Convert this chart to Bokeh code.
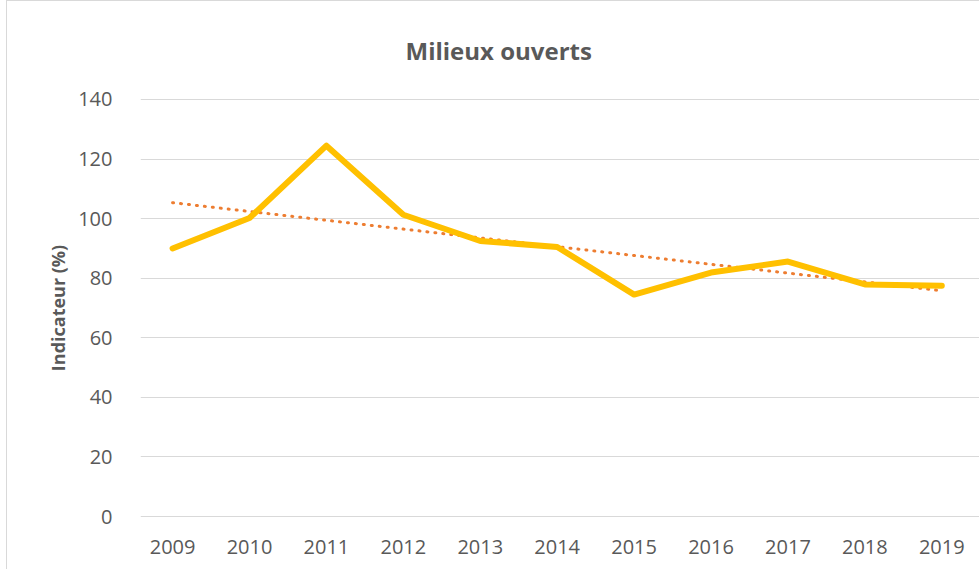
import numpy as np
from bokeh.plotting import figure
from bokeh.models import Range1d, FixedTicker, Title
from bokeh.embed import file_html
from bokeh.resources import INLINE

years = [2009, 2010, 2011, 2012, 2013, 2014, 2015, 2016, 2017, 2018, 2019]
values = [90.0, 100.2, 124.5, 101.3, 92.5, 90.5, 74.5, 81.9, 85.6, 77.9, 77.5]
y_ticks = [0, 20, 40, 60, 80, 100, 120, 140]
title_text = "Milieux ouverts"
y_label = "Indicateur (%)"

# linear trend line (Excel-style regression on the series)
xs = np.arange(len(years))
slope, intercept = np.polyfit(xs, values, 1)
trend = list(intercept + slope * xs)

TEXT = "#595959"
FONT = "Open Sans"

p = figure(width=972, height=568, output_backend="svg", toolbar_location=None,
           x_range=Range1d(2008.583, 2019.49), y_range=Range1d(-1, 141),
           frame_width=839, frame_height=423,
           min_border_left=133, min_border_right=0, min_border_top=95, min_border_bottom=50)
p.outline_line_color = None
p.margin = (0, 0, 0, 6)
p.styles = {"border-left": "1px solid #D9D9D9", "border-top": "1px solid #D9D9D9"}

t = Title(text=title_text, align="left", text_font=FONT, text_font_size="24px",
          text_font_style="bold", text_color=TEXT, offset=265, standoff=60)
p.add_layout(t, "above")

p.line(years, trend, line_color="#ED7D31", line_width=3, line_dash="1 7", line_cap="round")
p.line(years, values, line_color="#FFC000", line_width=6, line_cap="round", line_join="round")

p.xgrid.grid_line_color = None
p.ygrid.grid_line_color = "#D9D9D9"
p.ygrid.grid_line_width = 1
p.yaxis.ticker = FixedTicker(ticks=y_ticks)
p.xaxis.ticker = FixedTicker(ticks=years)

for ax in (p.xaxis[0], p.yaxis[0]):
    ax.axis_line_color = None
    ax.major_tick_line_color = None
    ax.minor_tick_line_color = None
    ax.major_label_text_font = FONT
    ax.major_label_text_font_size = "20px"
    ax.major_label_text_color = TEXT

p.yaxis.major_label_standoff = 22
p.xaxis.major_label_standoff = 14

p.yaxis.axis_label = y_label
p.yaxis.axis_label_text_font = FONT
p.yaxis.axis_label_text_font_size = "18px"
p.yaxis.axis_label_text_font_style = "bold"
p.yaxis.axis_label_text_color = TEXT
p.yaxis.axis_label_standoff = 5

open("out.html", "w").write(file_html(p, INLINE))
